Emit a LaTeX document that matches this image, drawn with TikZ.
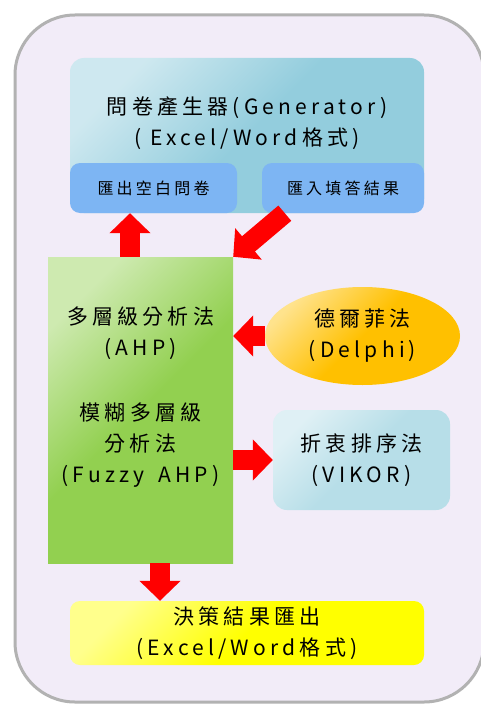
\documentclass[tikz,border=0pt]{standalone}
\usepackage{fontspec}
\newfontfamily\cjk[LetterSpace=20]{Noto Sans CJK TC}
\usetikzlibrary{positioning,shapes.geometric,arrows.meta}
\definecolor{framebg}{HTML}{F2ECF8}
\definecolor{genblue}{HTML}{93CDDD}
\definecolor{subblue}{HTML}{7DB5F3}
\definecolor{ahpgreen}{HTML}{92D050}
\definecolor{delphigold}{HTML}{FFC000}
\definecolor{vikorblue}{HTML}{B7DEE8}

\begin{document}
\begin{tikzpicture}[x=1pt, y=-1pt, font=\cjk\fontsize{21}{31}\selectfont,
	mybox/.style={rectangle, rounded corners=14pt, inner sep=0pt, align=center, text=black},
	glossy/.style={top color=#1!45, bottom color=#1, middle color=#1, shading angle=45},
	subbox/.style={mybox, rounded corners=10pt, fill=subblue, font=\cjk\fontsize{16}{20}\selectfont},
	redarrow/.style={draw=red, line width=20pt, -{Triangle[width=40pt,length=20pt]}}]
	\useasboundingbox (0,0) rectangle (480,706);
	\fill[white] (0,0) rectangle (480,706);
	\draw[draw=gray!60, line width=3pt, fill=framebg, rounded corners=60pt] (15,15) rectangle (484,702);
	% generator and its two parts
	\node[mybox, glossy=genblue, minimum width=354pt, minimum height=155pt] (gen) at (247,135.5) {};
	\node[align=center, text=black] (gentitle) at (247,123) {問卷產生器(Generator)\\( Excel/Word格式)};
	\node[subbox, minimum width=167pt, minimum height=50pt] (expq) at (153.5,188) {匯出空白問卷};
	\node[subbox, minimum width=162pt, minimum height=50pt] (impq) at (343,188) {匯入填答結果};
	% methods
	\node[rectangle, glossy=ahpgreen, minimum width=185pt, minimum height=306pt] (ahp) at (140.5,410) {};
	\node[align=center, text=black] (ahptext) at (140.5,397) {多層級分析法\\(AHP)\\[34pt]模糊多層級\\分析法\\(Fuzzy\hspace{14pt}AHP)};
	\node[ellipse, glossy=delphigold, inner sep=0pt, minimum width=195pt, minimum height=98pt, align=center, text=black] (delphi) at (362.5,336) {德爾菲法\\(Delphi)};
	\node[mybox, glossy=vikorblue, minimum width=177pt, minimum height=100pt] (vikor) at (361.5,460) {折衷排序法\\(VIKOR)};
	\node[mybox, rounded corners=10pt, glossy=yellow, minimum width=354pt, minimum height=64pt] (result) at (247,633) {決策結果匯出\\(Excel/Word格式)};
	% arrows
	\draw[redarrow] ([xshift=-10.5pt]ahp.north) -- ([xshift=-10.5pt]ahp.north |- expq.south);
	\draw[redarrow] ([xshift=23pt]impq.south west) -- (ahp.north east);
	\draw[redarrow] (delphi.west) -- (ahp.east |- delphi.west);
	\draw[redarrow] (ahp.east |- vikor.west) -- (vikor.west);
	\draw[redarrow] ([xshift=19.5pt]ahp.south) -- ([xshift=19.5pt]ahp.south |- result.north);
\end{tikzpicture}
\end{document}
